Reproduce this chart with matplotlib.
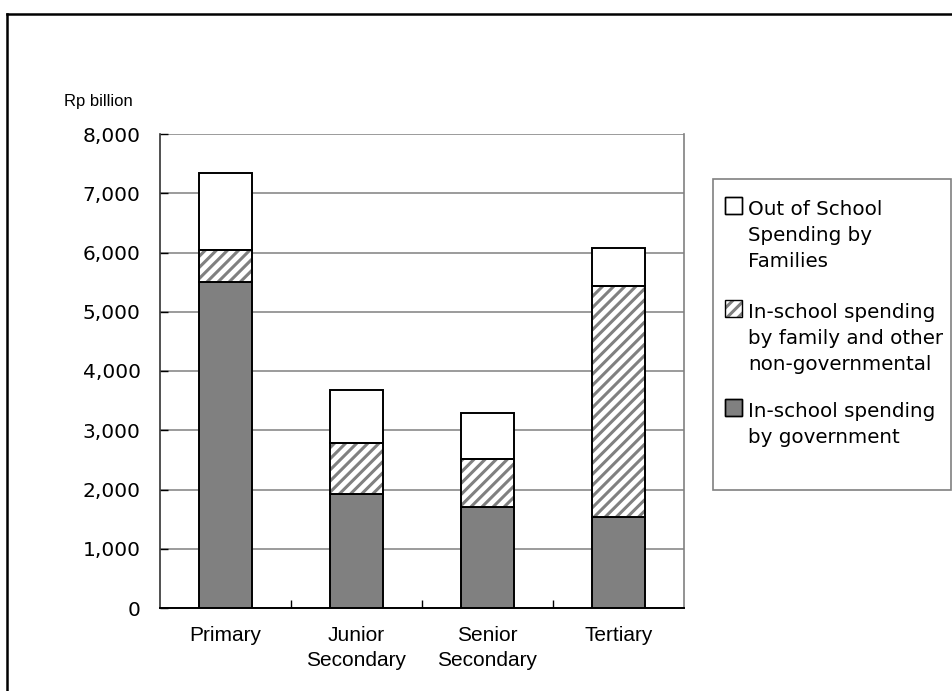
import numpy as np
import matplotlib
matplotlib.use("Agg")
import matplotlib.pyplot as plt
from matplotlib.patches import Rectangle
from matplotlib.lines import Line2D

# spending by level of education, Rp billion
levels = ["Primary", "Junior\nSecondary", "Senior\nSecondary", "Tertiary"]
gov_spend = [5500, 1920, 1700, 1540]
nongov_spend = [540, 860, 810, 3890]
out_of_school = [1300, 900, 780, 650]

legend_labels = [
    ["Out of School", "Spending by", "Families"],
    ["In-school spending", "by family and other", "non-governmental"],
    ["In-school spending", "by government"],
]

GREY = "#808080"
plt.rcParams["hatch.linewidth"] = 2.2
plt.rcParams["hatch.color"] = GREY

W, H = 953, 691
fig = plt.figure(figsize=(W / 100, H / 100), dpi=100)
ax = fig.add_axes([160/W, 83/H, 524/W, 474/H])

x = np.arange(len(levels)) + 0.5
w = 0.41
gov = np.array(gov_spend)
ngov = np.array(nongov_spend)
out = np.array(out_of_school)

ax.bar(x, gov, w, color=GREY, edgecolor="black", linewidth=1.4, zorder=3)
# hatched segment: grey stripes first, black outline drawn on top
ax.bar(x, ngov, w, bottom=gov, color="white", edgecolor=GREY, hatch="///",
       linewidth=0, zorder=3)
ax.bar(x, ngov, w, bottom=gov, fill=False, edgecolor="black", linewidth=1.4, zorder=4)
ax.bar(x, out, w, bottom=gov + ngov, color="white", edgecolor="black",
       linewidth=1.4, zorder=3)

ax.set_xlim(0, 4)
ax.set_ylim(0, 8000)
ax.set_yticks(np.arange(0, 8001, 1000))
ax.set_yticklabels([f"{v:,}" for v in range(0, 8001, 1000)],
                   fontfamily="DejaVu Sans", fontsize=14.5)
ax.yaxis.grid(True, color=GREY, linewidth=1.1, zorder=0)
ax.tick_params(axis="y", direction="in", length=6, width=1, pad=14)

ax.set_xticks([1, 2, 3])
ax.set_xticklabels([])
ax.set_xticks(x, minor=True)
ax.set_xticklabels(levels, minor=True, fontfamily="Liberation Sans", fontsize=15,
                   linespacing=1.4, va="top")
ax.tick_params(axis="x", which="major", direction="in", length=6, width=1)
ax.tick_params(axis="x", which="minor", length=0, pad=13)

ax.spines["top"].set_visible(False)
ax.spines["right"].set_color(GREY)
ax.spines["right"].set_linewidth(1.2)
ax.spines["left"].set_color("#333333")
ax.spines["left"].set_linewidth(1.2)
ax.spines["bottom"].set_linewidth(1.4)

fig.text(64/W, 1 - 106/H, "Rp billion", fontfamily="Liberation Sans",
         fontsize=12, va="baseline", ha="left")

# legend: grey frame, square swatches, stacked text lines
fig.patches.append(Rectangle((713/W, 1 - 490/H), 238/W, 311/H,
                             transform=fig.transFigure, fill=False,
                             edgecolor=GREY, linewidth=1.2))
swatches = [dict(facecolor="white", edgecolor="black"),
            dict(facecolor="white", edgecolor=GREY, hatch="///", linewidth=0),
            dict(facecolor=GREY, edgecolor="black")]
entry_base = [215, 318, 417]
step = 26
for lines, base, sw in zip(legend_labels, entry_base, swatches):
    box = (725/W, 1 - (base - 1)/H)
    fig.patches.append(Rectangle(box, 17/W, 17/H, transform=fig.transFigure,
                                 **{"linewidth": 1.0, **sw}))
    fig.patches.append(Rectangle(box, 17/W, 17/H, transform=fig.transFigure,
                                 fill=False, edgecolor="black", linewidth=1.0))
    for i, line in enumerate(lines):
        fig.text(748/W, 1 - (base + i * step)/H, line, fontfamily="DejaVu Sans",
                 fontsize=14.3, va="baseline", ha="left")

# outer frame
fig.add_artist(Line2D([7/W, 7/W], [0, 1 - 14/H], transform=fig.transFigure,
                      color="black", linewidth=1.8))
fig.add_artist(Line2D([7/W, 1], [1 - 14/H, 1 - 14/H], transform=fig.transFigure,
                      color="black", linewidth=1.8))

fig.savefig("out.png", dpi=100)
